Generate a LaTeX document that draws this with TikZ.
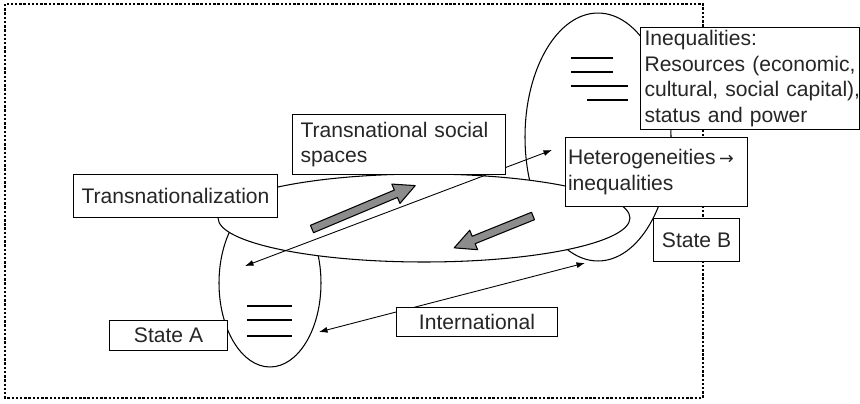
\documentclass[tikz,border=0pt]{standalone}
\usepackage{fontspec}
\setmainfont{Liberation Sans}
\newfontfamily\symfont{DejaVu Sans}
\usetikzlibrary{arrows.meta}

\begin{document}
\begin{tikzpicture}[x=0.02cm,y=-0.02cm,font=\fontsize{12}{14.5}\selectfont,>={Latex[length=1.7mm,width=1.2mm]},
  box/.style={draw=black,fill=white,line width=0.6pt,text=black!85,anchor=north west,inner ysep=0pt},
  lbox/.style={box,align=left},
  cbox/.style={box,align=center},
  ring/.style={draw=black,line width=0.6pt},
  bar/.style={draw=black,line width=0.6pt},
  conn/.style={draw=black,line width=0.5pt,<->},
  bigarrow/.style={draw=black,fill=black!45,line width=0.6pt,line join=round},
  frame/.style={draw=black,line width=0.8pt,dash pattern=on 1.4pt off 1pt}]

\useasboundingbox (0,0) rectangle (860,403);

% ---- outer frame ----
\draw[frame] (5,4) rectangle (703,398);

% ---- the two states and the transnational space ----
\draw[ring,fill=white] (598,137) ellipse [x radius=1.46cm,y radius=2.48cm];
\draw[ring,fill=white] (270,283) ellipse [x radius=1.02cm,y radius=1.68cm];
\draw[ring,fill=white] (424,218) ellipse [x radius=4.12cm,y radius=0.88cm];

% ---- strata inside the states ----
\foreach \y in {306,320,336} \draw[bar] (247,\y) -- (292,\y);
\draw[bar] (571,58) -- (613,58);
\draw[bar] (571,72) -- (613,72);
\draw[bar] (571,86) -- (628,86);
\draw[bar] (587,100) -- (628,100);

% ---- thin double arrows ----
\coordinate (tsA) at (245,266);
\coordinate (tsB) at (552,150);
\coordinate (inA) at (319,332);
\coordinate (inB) at (585,263);
\draw[conn] (tsA) -- (tsB);
\draw[conn] (inA) -- (inB);

% ---- grey block arrows ----
\draw[bigarrow,shift={(312,229)},rotate=22.8]
  (0,-4) -- (91,-4) -- (91,-10.5) -- (112,0) -- (91,10.5) -- (91,4) -- (0,4) -- cycle;
\draw[bigarrow,shift={(533,216)},rotate=202]
  (0,-4) -- (64,-4) -- (64,-10.5) -- (85,0) -- (64,10.5) -- (64,4) -- (0,4) -- cycle;

% ---- labels ----
\node[cbox,minimum width=4.08cm,minimum height=0.86cm] (trz) at (73,174) {Transnationalization};
\node[lbox,inner xsep=0.16cm,text width=3.94cm,minimum height=1.2cm] (tss) at (292,114)
  {Transnational social\\spaces};
\node[lbox,inner xsep=0.05cm,text width=3.54cm,minimum height=1.38cm] (het) at (565,137)
  {\mbox{Heterogeneities\,{\symfont\fontsize{10}{10}\selectfont →}}\\inequalities};
\node[lbox,inner xsep=0.08cm,text width=4.22cm,minimum height=2.04cm] (ineq) at (640,27)
  {Inequalities:\\\mbox{Resources (economic,}\\\mbox{cultural, social capital),}\\status and power};
\node[cbox,minimum width=1.72cm,minimum height=0.86cm] (stB) at (653,218) {State B};
\node[cbox,minimum width=2.36cm,minimum height=0.6cm] (stA) at (109,320) {State A};
\node[cbox,minimum width=3.22cm,minimum height=0.58cm] (intl) at (396,307) {International};
\end{tikzpicture}
\end{document}
